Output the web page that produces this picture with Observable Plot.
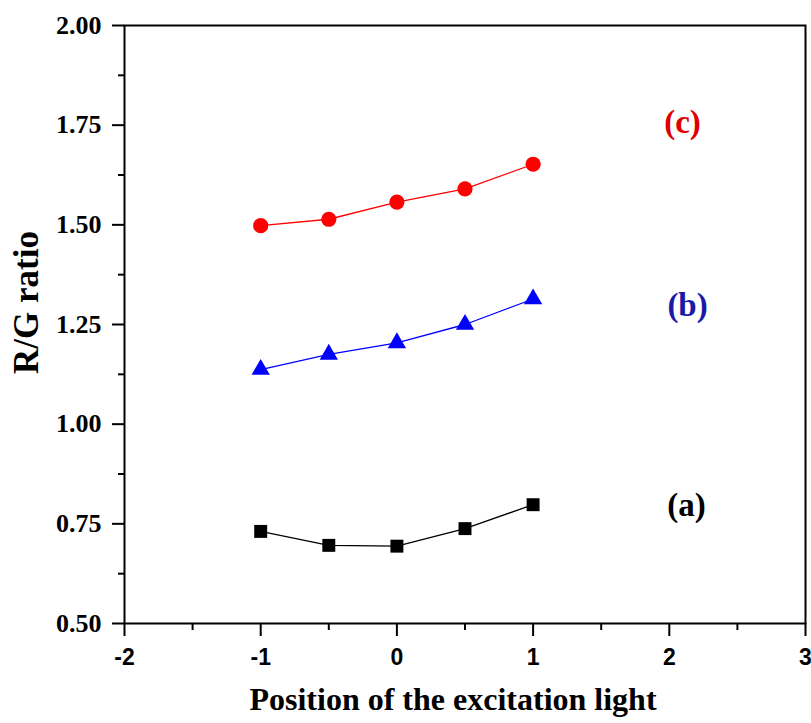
<!DOCTYPE html>
<html><head><meta charset="utf-8">
<script src="https://cdn.jsdelivr.net/npm/d3@7"></script>
<script src="https://cdn.jsdelivr.net/npm/@observablehq/plot@0.6"></script>
<style>
body{margin:0;background:#fff;}
#chart{width:811px;height:723px;}
</style>
</head><body><div id="chart"></div>
<script>
// ---- data ----
const positions = [-1, -0.5, 0, 0.5, 1];
const seriesA = [0.731, 0.696, 0.694, 0.738, 0.798];   // black squares
const seriesB = [1.137, 1.175, 1.204, 1.250, 1.314];   // blue triangles
const seriesC = [1.498, 1.514, 1.557, 1.590, 1.652];   // red circles
const seriesNames = ["(a)", "(b)", "(c)"];
const labelX = [2.127, 2.134, 2.097];
const labelY = [0.796, 1.298, 1.757];
const xTicks = [-2, -1, 0, 1, 2, 3];
const xMinorTicks = [-1.5, -0.5, 0.5, 1.5, 2.5];
const yTicks = [0.5, 0.75, 1.0, 1.25, 1.5, 1.75, 2.0];
const yMinorTicks = [0.625, 0.875, 1.125, 1.375, 1.625, 1.875];
const xTitle = "Position of the excitation light";
const yTitle = "R/G ratio";

// ---- build table ----
const allSeries = [seriesA, seriesB, seriesC];
const rows = [];
allSeries.forEach((vals, i) => positions.forEach((p, j) => rows.push({x: p, y: vals[j], s: seriesNames[i]})));
const labels = seriesNames.map((n, i) => ({name: n, x: labelX[i], y: labelY[i]}));

const colors = {"(a)": "#000000", "(b)": "#0000ff", "(c)": "#ff0000"};
const labelColors = {"(a)": "#000000", "(b)": "#1a1aa8", "(c)": "#e00000"};
const symbols = {"(a)": "square", "(b)": "triangle", "(c)": "circle"};
const radii = {"(a)": 7.3, "(b)": 6.8, "(c)": 7.6};
const serif = "'Liberation Serif', 'Times New Roman', serif";
const sans = "'Liberation Sans', Arial, sans-serif";
const fmtY = d3.format(".2f");

const dotMarks = seriesNames.map(n => Plot.dot(rows.filter(d => d.s === n), {
  x: "x", y: "y", symbol: () => symbols[n], r: radii[n], fill: colors[n], stroke: "none"
}));

const chart = Plot.plot({
  width: 811, height: 723,
  marginLeft: 124, marginRight: 6, marginTop: 25, marginBottom: 100,
  style: {background: "#ffffff", color: "#000000", overflow: "visible"},
  x: {domain: [-2, 3], label: null},
  y: {domain: [0.5, 2.0], label: null},
  symbol: {type: "identity"},
  marks: [
    Plot.axisX(xMinorTicks, {tickSize: 7, strokeWidth: 2, tickFormat: () => "", label: null}),
    Plot.axisX(xTicks, {tickSize: 13, strokeWidth: 2, tickFormat: () => "", label: null}),
    Plot.axisY(yMinorTicks, {tickSize: 6, strokeWidth: 2, tickFormat: () => "", label: null}),
    Plot.axisY(yTicks, {tickSize: 12, strokeWidth: 2, tickFormat: () => "", label: null}),
    Plot.text(xTicks, {x: d => d, frameAnchor: "bottom", lineAnchor: "middle", textAnchor: "middle", dy: 34,
      text: d => String(d), fontSize: 23, fontFamily: sans, fontWeight: "bold", fill: "#000"}),
    Plot.text(yTicks, {y: d => d, frameAnchor: "left", lineAnchor: "middle", textAnchor: "end", dx: -23,
      text: d => fmtY(d), fontSize: 26, fontFamily: serif, fontWeight: "bold", fill: "#000"}),
    Plot.frame({stroke: "#000", strokeWidth: 2}),
    ...seriesNames.map(n => Plot.line(rows.filter(d => d.s === n), {x: "x", y: "y", stroke: colors[n], strokeWidth: 1.3})),
    ...dotMarks,
    Plot.text(labels, {x: "x", y: "y", text: "name", fill: d => labelColors[d.name],
      fontSize: 33, fontFamily: serif, fontWeight: "bold"}),
    Plot.text([xTitle], {frameAnchor: "bottom", dy: 86, dx: -12, text: d => d,
      fontSize: 32, fontFamily: serif, fontWeight: "bold", fill: "#000"}),
    Plot.text([yTitle], {frameAnchor: "left", textAnchor: "middle", lineAnchor: "middle", dx: -98, dy: -22, rotate: -90, text: d => d,
      fontSize: 35, fontFamily: serif, fontWeight: "bold", fill: "#000"})
  ]
});
document.getElementById("chart").appendChild(chart);
</script>
</body></html>
